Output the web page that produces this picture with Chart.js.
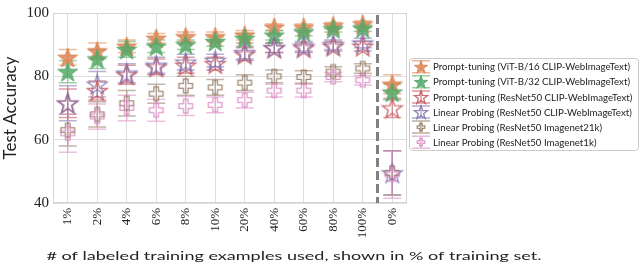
<!DOCTYPE html>
<html>
<head>
<meta charset="utf-8">
<script src="https://cdn.jsdelivr.net/npm/chart.js@4.4.0/dist/chart.umd.min.js"></script>
<style>
html, body { margin: 0; padding: 0; background: #fff; }
#wrap { width: 640px; height: 266px; position: relative; }
</style>
</head>
<body>
<div id="wrap"><canvas id="chart"></canvas></div>
<script>
// categories (x axis)
var labels = ['1%', '2%', '4%', '6%', '8%', '10%', '20%', '40%', '60%', '80%', '100%', '0%'];
var yTicks = [40, 60, 80, 100];

// series values + error half-widths
var ptVit16 = [86, 88, 89.5, 92, 92.5, 92.5, 93, 95.5, 95.5, 96, 96.5, 77.5];
var ptVit16Err = [2.5, 2.5, 2, 1.5, 1.5, 1.5, 1.5, 1, 1, 1, 1, 3];
var ptVit32 = [81.5, 85.5, 88.5, 89.5, 90, 91, 92, 93, 94, 95, 95.2, 75];
var ptVit32Err = [3.5, 3, 2.5, 2, 1.5, 1.5, 1.5, 1.5, 1.2, 1, 1, 2.5];
var ptRn50 = [71.5, 75.5, 80.5, 83, 83.5, 84, 87, 89, 89, 89.5, 89.5, 70];
var ptRn50Err = [4.5, 3, 3, 2.5, 2.5, 2, 2, 1.5, 1.5, 1.5, 1.5, 3];
var lpRn50Clip = [71.5, 77.5, 81, 83.5, 84.5, 85, 87.5, 89, 89.5, 90, 90.5, 49.5];
var lpRn50ClipErr = [5.5, 4, 3, 2.5, 2.5, 2, 2, 1.5, 1.5, 1.5, 1.5, 7];
var lpRn50In21k = [63, 68, 71.5, 74.5, 77, 76.5, 78, 80, 79.8, 81.5, 82.5, 49.5];
var lpRn50In21kErr = [5, 4, 4, 3, 3, 2.5, 2.5, 2, 2, 1.5, 1.5, 7];
var lpRn50In1k = [62, 67.3, 70, 69.3, 70.6, 71, 72.5, 75.5, 75.5, 79.8, 78.8, 49];
var lpRn50In1kErr = [6, 4, 4, 3.5, 3, 2.5, 2.5, 2, 2, 1.5, 1.5, 7.5];

var names = [
  'Prompt-tuning (ViT-B/16 CLIP-WebImageText)',
  'Prompt-tuning (ViT-B/32 CLIP-WebImageText)',
  'Prompt-tuning (ResNet50 CLIP-WebImageText)',
  'Linear Probing (ResNet50 CLIP-WebImageText)',
  'Linear Probing (ResNet50 Imagenet21k)',
  'Linear Probing (ResNet50 Imagenet1k)'
];
var colors = ['221,132,82', '85,168,104', '196,78,82', '129,114,179', '147,120,96', '218,139,195'];
var shapes = ['starFill', 'starFill', 'star', 'star', 'plus', 'plus'];
var values = [ptVit16, ptVit32, ptRn50, lpRn50Clip, lpRn50In21k, lpRn50In1k];
var errors = [ptVit16Err, ptVit32Err, ptRn50Err, lpRn50ClipErr, lpRn50In21kErr, lpRn50In1kErr];

var SANS = 'Lato, "DejaVu Sans", sans-serif';
var SERIF = '"Liberation Serif", "DejaVu Serif", serif';

// marker shapes
function markerPath(ctx, shape, cx, cy, s) {
  ctx.beginPath();
  if (shape == 'plus') {
    var a = s * 0.62, b = s * 0.21;
    var pts = [[-b,-a],[b,-a],[b,-b],[a,-b],[a,b],[b,b],[b,a],[-b,a],[-b,b],[-a,b],[-a,-b],[-b,-b]];
    for (var i = 0; i < pts.length; i++) {
      if (i == 0) ctx.moveTo(cx + pts[i][0], cy + pts[i][1]);
      else ctx.lineTo(cx + pts[i][0], cy + pts[i][1]);
    }
  } else {
    for (var j = 0; j < 10; j++) {
      var ang = -Math.PI / 2 + j * Math.PI / 5;
      var rad = j % 2 ? s * 0.4 : s;
      var x = cx + rad * Math.cos(ang), y = cy + rad * Math.sin(ang);
      if (j == 0) ctx.moveTo(x, y); else ctx.lineTo(x, y);
    }
  }
  ctx.closePath();
}

function drawMarker(ctx, k, cx, cy, s) {
  markerPath(ctx, shapes[k], cx, cy, s);
  if (shapes[k] == 'starFill') {
    ctx.fillStyle = 'rgba(' + colors[k] + ',0.85)';
    ctx.fill();
    ctx.strokeStyle = 'rgba(' + colors[k] + ',0.9)';
    ctx.lineWidth = 1;
  } else {
    ctx.strokeStyle = 'rgba(' + colors[k] + ',0.85)';
    ctx.lineWidth = 1.3;
  }
  ctx.stroke();
}

function makeMarker(k, s) {
  var c = document.createElement('canvas');
  var n = Math.ceil(s * 2 + 4);
  c.width = n; c.height = n;
  drawMarker(c.getContext('2d'), k, n / 2, n / 2 + (shapes[k] == 'plus' ? 0 : 1), s);
  return c;
}

// error bars under the markers
var errorBars = {
  id: 'errorBars',
  beforeDatasetsDraw: function(chart) {
    var ctx = chart.ctx, xs = chart.scales.x, ys = chart.scales.y;
    ctx.save();
    for (var k = 0; k < values.length; k++) {
      ctx.strokeStyle = 'rgba(' + colors[k] + ',0.55)';
      ctx.lineWidth = 1.5;
      for (var i = 0; i < labels.length; i++) {
        var x = xs.getPixelForValue(i);
        var y1 = ys.getPixelForValue(values[k][i] - errors[k][i]);
        var y2 = ys.getPixelForValue(values[k][i] + errors[k][i]);
        ctx.beginPath();
        ctx.moveTo(x, y1); ctx.lineTo(x, y2);
        ctx.moveTo(x - 9, y1); ctx.lineTo(x + 9, y1);
        ctx.moveTo(x - 9, y2); ctx.lineTo(x + 9, y2);
        ctx.stroke();
      }
    }
    ctx.restore();
  }
};

// frame, dashed separator, x title and legend
var extras = {
  id: 'extras',
  beforeDatasetsDraw: function(chart) {
    var ctx = chart.ctx, a = chart.chartArea, xs = chart.scales.x;
    ctx.save();
    ctx.strokeStyle = '#d4d4d4';
    ctx.lineWidth = 1;
    ctx.strokeRect(a.left + 0.5, a.top + 0.5, a.right - a.left - 1, a.bottom - a.top - 1);
    var xd = (xs.getPixelForValue(10) + xs.getPixelForValue(11)) / 2;
    ctx.strokeStyle = '#808080';
    ctx.lineWidth = 3;
    ctx.setLineDash([9, 4]);
    ctx.beginPath();
    ctx.moveTo(xd, a.top + 2); ctx.lineTo(xd, a.bottom);
    ctx.stroke();
    ctx.restore();
  },
  afterDraw: function(chart) {
    var ctx = chart.ctx;
    ctx.save();
    // x axis title, stretched wide like the source figure
    var xt = '# of labeled training examples used, shown in % of training set.';
    ctx.font = '11.5px ' + SANS;
    var sx = 495 / ctx.measureText(xt).width;
    ctx.save();
    ctx.translate(294, 256);
    ctx.scale(sx, 1);
    ctx.fillStyle = '#222';
    ctx.textAlign = 'center';
    ctx.textBaseline = 'middle';
    ctx.fillText(xt, 0, 0);
    ctx.restore();

    // legend
    var bx = 409, by = 58, bw = 229, bh = 92;
    ctx.fillStyle = 'rgba(255,255,255,0.85)';
    ctx.strokeStyle = '#cccccc';
    ctx.lineWidth = 1;
    ctx.beginPath();
    ctx.roundRect(bx + 0.5, by + 0.5, bw, bh, 3);
    ctx.fill(); ctx.stroke();
    var lf = 10;
    ctx.font = lf + 'px ' + SANS;
    lf = lf * 199 / ctx.measureText(names[3]).width;
    ctx.font = lf + 'px ' + SANS;
    ctx.textAlign = 'left';
    ctx.textBaseline = 'middle';
    for (var k = 0; k < names.length; k++) {
      var cy = 66.7 + k * 15.1, cx = 421;
      ctx.strokeStyle = 'rgba(' + colors[k] + ',0.6)';
      ctx.lineWidth = 1.5;
      ctx.beginPath();
      ctx.moveTo(cx, cy - 6); ctx.lineTo(cx, cy + 6);
      ctx.moveTo(cx - 9, cy - 6); ctx.lineTo(cx + 9, cy - 6);
      ctx.moveTo(cx - 9, cy + 6); ctx.lineTo(cx + 9, cy + 6);
      ctx.stroke();
      drawMarker(ctx, k, cx, cy + (shapes[k] == 'plus' ? 0 : 0.8), shapes[k] == 'plus' ? 6 : 7);
      ctx.fillStyle = '#222';
      ctx.fillText(names[k], 433, cy + 0.5);
    }
    ctx.restore();
  }
};

var datasets = [];
for (var k = 0; k < values.length; k++) {
  datasets.push({
    label: names[k],
    data: values[k],
    showLine: false,
    pointStyle: makeMarker(k, shapes[k] == 'plus' ? 11 : 10.5),
    pointRadius: 10,
    pointHoverRadius: 10,
    borderColor: 'rgb(' + colors[k] + ')',
    backgroundColor: 'rgb(' + colors[k] + ')',
    order: 10 - k
  });
}

new Chart(document.getElementById('chart'), {
  type: 'line',
  data: { labels: labels, datasets: datasets },
  plugins: [extras, errorBars],
  options: {
    responsive: true,
    maintainAspectRatio: false,
    animation: false,
    clip: false,
    layout: { padding: { top: 7, right: 233, left: 0, bottom: 0 } },
    plugins: { legend: { display: false }, tooltip: { enabled: false } },
    scales: {
      x: {
        type: 'category',
        offset: true,
        grid: { offset: false, color: '#dddddd', drawTicks: false },
        border: { display: false },
        ticks: {
          minRotation: 90, maxRotation: 90, padding: 5,
          color: '#222', font: { family: SERIF, size: 13 }
        },
        afterFit: function(s) { s.height = 63; }
      },
      y: {
        min: 40, max: 100,
        grid: { color: '#dddddd', drawTicks: false },
        border: { display: false },
        afterBuildTicks: function(s) { s.ticks = yTicks.map(function(v) { return { value: v }; }); },
        ticks: { padding: 4, color: '#222', font: { family: SERIF, size: 15 } },
        title: {
          display: true, text: 'Test Accuracy', color: '#222',
          font: { family: SANS, size: 17 }, padding: { top: 0, bottom: 4 }
        },
        afterFit: function(s) { s.width = 53; }
      }
    }
  }
});
</script>
</body>
</html>
